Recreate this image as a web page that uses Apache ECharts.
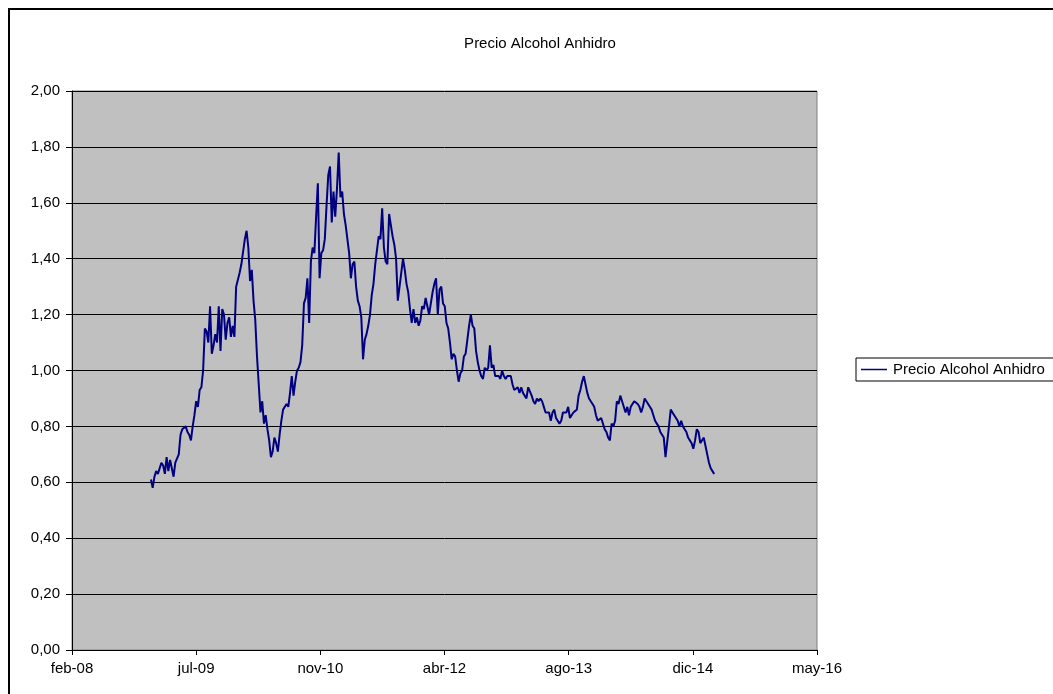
<!DOCTYPE html>
<html>
<head>
<meta charset="utf-8">
<title>Precio Alcohol Anhidro</title>
<script src="https://cdn.jsdelivr.net/npm/echarts@6/dist/echarts.min.js"></script>
<style>
  html, body { margin: 0; padding: 0; background: #ffffff; }
  #chart { width: 1053px; height: 694px; }
</style>
</head>
<body>
<div id="chart"></div>
<script>
// Weekly price series, first observation week
const firstWeek = '2009-01-05';

// Weekly price of anhydrous alcohol
const prices = [
  0.61, 0.58, 0.62, 0.64, 0.63, 0.65, 0.67, 0.66, 0.63, 0.69,
  0.64, 0.68, 0.65, 0.62, 0.67, 0.67, 0.70, 0.77, 0.79, 0.79,
  0.80, 0.78, 0.77, 0.75, 0.80, 0.84, 0.89, 0.87, 0.93, 0.94,
  1.00, 1.15, 1.14, 1.10, 1.23, 1.06, 1.09, 1.13, 1.10, 1.23,
  1.07, 1.22, 1.20, 1.11, 1.17, 1.19, 1.12, 1.16, 1.12, 1.30,
  1.30, 1.35, 1.38, 1.38, 1.47, 1.50, 1.44, 1.32, 1.36, 1.25,
  1.18, 1.05, 0.95, 0.85, 0.89, 0.81, 0.84, 0.79, 0.75, 0.69,
  0.71, 0.76, 0.74, 0.71, 0.77, 0.82, 0.86, 0.87, 0.88, 0.87,
  0.92, 0.98, 0.91, 0.96, 1.00, 1.01, 1.03, 1.09, 1.24, 1.26,
  1.33, 1.17, 1.39, 1.44, 1.42, 1.55, 1.67, 1.33, 1.42, 1.43,
  1.47, 1.59, 1.70, 1.73, 1.53, 1.64, 1.55, 1.65, 1.78, 1.62,
  1.64, 1.56, 1.52, 1.47, 1.42, 1.33, 1.38, 1.39, 1.30, 1.25,
  1.23, 1.19, 1.04, 1.11, 1.13, 1.16, 1.20, 1.27, 1.31, 1.38,
  1.38, 1.48, 1.47, 1.58, 1.44, 1.39, 1.38, 1.56, 1.52, 1.48,
  1.45, 1.40, 1.25, 1.30, 1.35, 1.40, 1.36, 1.31, 1.28, 1.22,
  1.17, 1.22, 1.17, 1.19, 1.16, 1.18, 1.23, 1.22, 1.26, 1.23,
  1.20, 1.24, 1.28, 1.31, 1.33, 1.20, 1.29, 1.30, 1.24, 1.23,
  1.17, 1.15, 1.10, 1.04, 1.06, 1.05, 1.00, 0.96, 0.99, 1.00,
  1.05, 1.06, 1.11, 1.16, 1.20, 1.16, 1.15, 1.07, 1.03, 1.00,
  0.98, 0.97, 1.01, 1.00, 1.01, 1.09, 1.01, 1.02, 0.98, 0.98,
  0.98, 0.97, 1.00, 0.98, 0.97, 0.98, 0.98, 0.98, 0.95, 0.93,
  0.93, 0.94, 0.92, 0.94, 0.92, 0.92, 0.90, 0.94, 0.94, 0.91,
  0.89, 0.88, 0.90, 0.89, 0.90, 0.89, 0.87, 0.85, 0.85, 0.85,
  0.82, 0.85, 0.86, 0.83, 0.83, 0.81, 0.82, 0.85, 0.85, 0.85,
  0.87, 0.83, 0.84, 0.85, 0.85, 0.86, 0.91, 0.93, 0.96, 0.98,
  0.95, 0.92, 0.90, 0.89, 0.88, 0.87, 0.84, 0.82, 0.82, 0.83,
  0.81, 0.79, 0.78, 0.76, 0.75, 0.81, 0.80, 0.82, 0.89, 0.88,
  0.91, 0.89, 0.89, 0.85, 0.87, 0.84, 0.87, 0.87, 0.89, 0.89,
  0.88, 0.87, 0.85, 0.87, 0.90, 0.89, 0.89, 0.87, 0.86, 0.84,
  0.82, 0.81, 0.80, 0.78, 0.78, 0.76, 0.69, 0.69, 0.80, 0.86,
  0.85, 0.84, 0.83, 0.82, 0.80, 0.82, 0.80, 0.79, 0.78, 0.76,
  0.75, 0.74, 0.72, 0.75, 0.79, 0.78, 0.74, 0.74, 0.76, 0.73,
  0.70, 0.67, 0.65, 0.64, 0.63
];

// Date axis: spreadsheet day numbers, one label every 500 days
const xAxisMin = 39500;
const xAxisMax = 42500;
const xAxisStep = 500;
const xTickLabels = ['feb-08', 'jul-09', 'nov-10', 'abr-12', 'ago-13', 'dic-14', 'may-16'];

const seriesName = 'Precio Alcohol Anhidro';
const chartTitle = 'Precio Alcohol Anhidro';

const DAY_MS = 86400000;
const SERIAL_EPOCH = Date.UTC(1899, 11, 30);

function toSerial(ms) {
  return Math.round((ms - SERIAL_EPOCH) / DAY_MS);
}

const startMs = Date.parse(firstWeek + 'T00:00:00Z');
const points = prices.map((p, i) => [toSerial(startMs + i * 7 * DAY_MS), p]);

const FONT = '"Liberation Sans", Arial, sans-serif';
const LINE_COLOR = '#000080';

const chart = echarts.init(document.getElementById('chart'), null, { renderer: 'canvas' });

chart.setOption({
  animation: false,
  backgroundColor: '#ffffff',
  textStyle: { fontFamily: FONT },
  graphic: [
    {
      type: 'rect',
      shape: { x: 9, y: 9, width: 1100, height: 760 },
      style: { fill: 'none', stroke: '#000000', lineWidth: 2 },
      silent: true,
      z: -1
    },
    {
      type: 'text',
      x: 540,
      y: 44,
      style: {
        text: chartTitle,
        fill: '#000000',
        font: '15px ' + FONT,
        textAlign: 'center',
        textVerticalAlign: 'middle'
      }
    }
  ],
  legend: {
    left: 856,
    top: 358,
    orient: 'horizontal',
    padding: [4, 14, 4, 5],
    borderColor: '#000000',
    borderWidth: 1,
    backgroundColor: '#ffffff',
    itemWidth: 26,
    itemHeight: 1.5,
    itemGap: 6,
    textStyle: { fontSize: 15, color: '#000000', fontFamily: FONT, padding: [0, 0, 0, 1] },
    data: [{ name: seriesName, icon: 'rect' }]
  },
  grid: {
    left: 72,
    right: 236,
    top: 91,
    bottom: 44,
    show: true,
    backgroundColor: '#c0c0c0',
    borderColor: '#808080',
    borderWidth: 1,
    containLabel: false
  },
  xAxis: {
    type: 'value',
    min: xAxisMin,
    max: xAxisMax,
    interval: xAxisStep,
    axisLine: { show: true, onZero: false, lineStyle: { color: '#000000', width: 1 } },
    axisTick: { show: true, inside: false, length: 5, lineStyle: { color: '#000000' } },
    splitLine: { show: false },
    axisLabel: {
      color: '#000000',
      fontSize: 15,
      fontFamily: FONT,
      margin: 11,
      formatter: v => xTickLabels[Math.round((v - xAxisMin) / xAxisStep)] || ''
    }
  },
  yAxis: {
    type: 'value',
    min: 0,
    max: 2,
    interval: 0.2,
    axisLine: { show: true, lineStyle: { color: '#000000', width: 1 } },
    axisTick: { show: true, inside: false, length: 6, lineStyle: { color: '#000000' } },
    splitLine: { show: true, lineStyle: { color: '#000000', width: 1 } },
    axisLabel: {
      color: '#000000',
      fontSize: 15,
      fontFamily: FONT,
      margin: 12,
      formatter: v => v.toFixed(2).replace('.', ',')
    }
  },
  series: [
    {
      name: seriesName,
      type: 'line',
      data: points,
      showSymbol: false,
      symbol: 'none',
      color: LINE_COLOR,
      lineStyle: { color: LINE_COLOR, width: 2 },
      itemStyle: { color: LINE_COLOR }
    }
  ]
});
</script>
</body>
</html>
